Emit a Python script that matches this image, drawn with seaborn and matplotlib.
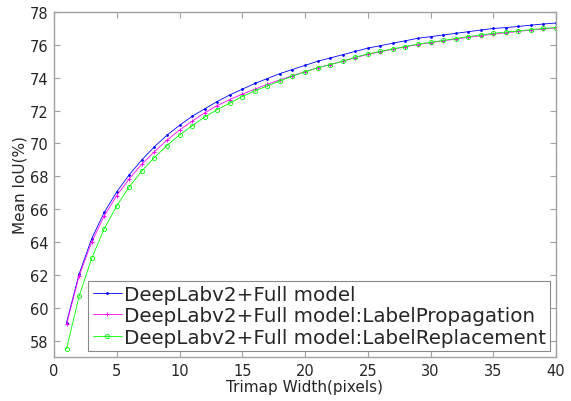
import numpy as np
import pandas as pd
import matplotlib
matplotlib.use("Agg")
import matplotlib.pyplot as plt
import seaborn as sns

trimap_width = list(range(1, 41))

full_model = [59.1, 62.05, 64.2, 65.8, 67.05, 68.1, 69.0, 69.8, 70.5, 71.1,
              71.65, 72.1, 72.55, 72.95, 73.3, 73.65, 73.95, 74.25, 74.5, 74.75,
              75.0, 75.2, 75.4, 75.6, 75.8, 75.95, 76.1, 76.25, 76.4, 76.5,
              76.6, 76.7, 76.8, 76.9, 77.0, 77.05, 77.12, 77.2, 77.27, 77.33]

label_propagation = [59.0, 61.93, 64.0, 65.58, 66.83, 67.85, 68.74, 69.49, 70.2, 70.81,
                     71.35, 71.86, 72.3, 72.67, 73.0, 73.3, 73.6, 73.87, 74.12, 74.37,
                     74.6, 74.8, 75.0, 75.22, 75.42, 75.58, 75.73, 75.88, 76.02, 76.13,
                     76.25, 76.35, 76.46, 76.56, 76.65, 76.74, 76.82, 76.9, 76.97, 77.03]

label_replacement = [57.5, 60.7, 63.0, 64.8, 66.2, 67.36, 68.33, 69.14, 69.87, 70.52,
                     71.07, 71.6, 72.06, 72.45, 72.85, 73.2, 73.5, 73.8, 74.1, 74.35,
                     74.6, 74.8, 75.0, 75.25, 75.45, 75.6, 75.75, 75.9, 76.05, 76.15,
                     76.27, 76.38, 76.5, 76.6, 76.7, 76.78, 76.85, 76.92, 77.0, 77.05]

series_names = ["DeepLabv2+Full model",
                "DeepLabv2+Full model:LabelPropagation",
                "DeepLabv2+Full model:LabelReplacement"]
series_values = [full_model, label_propagation, label_replacement]
colors = ["#0000ff", "#ff00ff", "#00ff00"]
markers = [".", "+", "o"]
msizes = [2.5, 3.2, 3.0]

x_ticks = [0, 5, 10, 15, 20, 25, 30, 35, 40]
y_ticks = [58, 60, 62, 64, 66, 68, 70, 72, 74, 76, 78]

sns.set_style("white")
plt.rcParams["font.family"] = ["DejaVu Sans"]

fig = plt.figure(figsize=(5.71, 4.02), dpi=100)
ax = fig.add_axes([54/571, 1-358/402, (556-54)/571, (358-13)/402])

for name, vals, c, m, ms in zip(series_names, series_values, colors, markers, msizes):
    df = pd.DataFrame({"x": trimap_width, "y": vals})
    kw = dict(marker=m, markersize=ms, color=c, linewidth=0.6, label=name, ax=ax)
    if m == "o":
        kw.update(markerfacecolor="none", markeredgecolor=c, markeredgewidth=0.6)
    else:
        kw.update(markeredgecolor=c, markeredgewidth=0.7)
    sns.lineplot(data=df, x="x", y="y", **kw)

ax.set_xlim(0, 40)
ax.set_ylim(57, 78)
ax.set_xticks(x_ticks)
ax.set_yticks(y_ticks)
ax.set_xticklabels([str(t) for t in x_ticks])
ax.set_yticklabels([str(t) for t in y_ticks])

spine_col = "#a0a0a0"
for s in ax.spines.values():
    s.set_visible(True)
    s.set_color(spine_col)
    s.set_linewidth(1.0)
ax.tick_params(axis="both", which="both", direction="in", length=4, width=0.8,
               color=spine_col, labelcolor="#262626", labelsize=10.5,
               top=True, right=True, bottom=True, left=True, pad=4)

ax.set_xlabel("Trimap Width(pixels)", fontsize=11, color="#262626", labelpad=1)
ax.set_ylabel("Mean IoU(%)", fontsize=11, color="#262626", labelpad=1.5)

leg = ax.legend(loc="lower right", bbox_to_anchor=(0.988, 0.017), borderaxespad=0,
                fontsize=14.3, frameon=True, fancybox=False, handlelength=1.45,
                handletextpad=0.1, borderpad=0.22, labelspacing=0.12)
leg.get_frame().set_edgecolor("#8a8a8a")
leg.get_frame().set_linewidth(0.8)
leg.get_frame().set_facecolor("white")
leg.get_frame().set_alpha(1)

fig.savefig("out.png", dpi=100)
